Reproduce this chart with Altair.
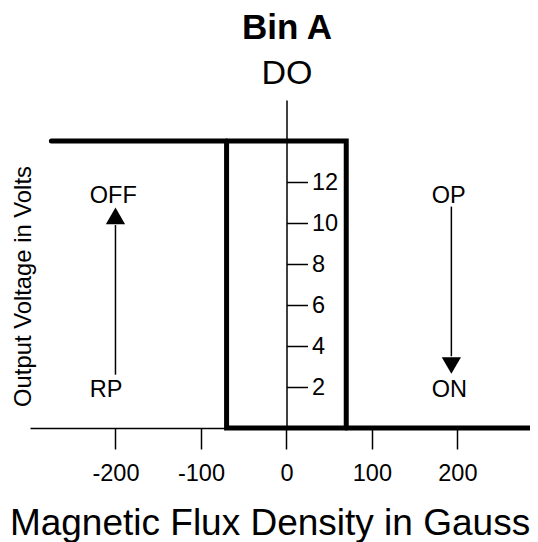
import altair as alt
import pandas as pd

# ---- data ----
x_ticks = [-200, -100, 0, 100, 200]
y_ticks = [2, 4, 6, 8, 10, 12]
x_domain = [-300, 285]
y_domain = [0, 16]

v_high = 14          # output high (OFF) voltage
v_low = 0            # output low (ON) voltage
b_op = 70            # operate point (G)
b_rp = -70           # release point (G)
line_start = -275
line_end = 300

label_text = ["OFF", "RP", "OP", "ON"]
label_x = [-230, -230, 170, 170]
label_y = [11, 1.5, 11, 1.5]

arrow_x = [-200, 193]
arrow_from = [2.6, 10.8]
arrow_to = [9.9, 3.5]
head_y = [10.35, 3.05]
head_shape = ["triangle-up", "triangle-down"]

FONT = "Liberation Sans"
W, H = 500, 328

loop_df = pd.DataFrame({
    "seg": ["a", "a", "a", "b", "b", "b"],
    "ord": [0, 1, 2, 0, 1, 2],
    "x": [line_start, b_op, b_op, b_rp, b_rp, line_end],
    "y": [v_high, v_high, v_low, v_high, v_low, v_low],
})
lab_df = pd.DataFrame({"t": label_text, "x": label_x, "y": label_y})
arr_df = pd.DataFrame({"x": arrow_x, "y": arrow_from, "y2": arrow_to,
                       "hy": head_y, "shape": head_shape})

xscale = alt.Scale(domain=x_domain, nice=False, zero=False)
yscale = alt.Scale(domain=y_domain, nice=False, zero=False)

x_axis = alt.Axis(
    values=x_ticks, labelExpr="'' + datum.value", grid=False,
    labelFont=FONT, labelFontSize=23.5, labelColor="black", labelPadding=12,
    labelFlush=False, tickSize=21, tickWidth=1.5, tickColor="black",
    domainColor="black", domainWidth=1.5,
    title="Magnetic Flux Density in Gauss", titleFont=FONT, titleFontSize=37,
    titleFontWeight="normal", titleColor="black", titleX=239.5, titleY=106.5,
    titleAlign="center", titleBaseline="alphabetic",
)
y_axis = alt.Axis(
    orient="right", offset=-243.5, values=y_ticks, grid=False,
    labelFont=FONT, labelFontSize=23.5, labelColor="black", labelPadding=4,
    tickSize=21, tickWidth=1.5, tickColor="black",
    domainColor="black", domainWidth=1.5,
    title="Output Voltage in Volts", titleFont=FONT, titleFontSize=23.8,
    titleFontWeight="normal", titleColor="black", titleAngle=270,
    titleX=-256.5, titleY=186, titleAlign="center", titleBaseline="alphabetic",
)

X = alt.X("x:Q", scale=xscale, axis=x_axis)

loop = alt.Chart(loop_df).mark_line(
    color="black", strokeWidth=5, strokeCap="round", strokeJoin="miter"
).encode(
    x=X,
    y=alt.Y("y:Q", scale=yscale, axis=y_axis),
    detail="seg:N",
    order="ord:Q",
)

shafts = alt.Chart(arr_df).mark_rule(color="black", strokeWidth=1.5).encode(
    x=X,
    y=alt.Y("y:Q", scale=yscale, axis=y_axis),
    y2="y2:Q",
)

heads = alt.Chart(arr_df).mark_point(
    filled=True, color="black", opacity=1, size=370, strokeWidth=0
).encode(
    x=X,
    y=alt.Y("hy:Q", scale=yscale, axis=y_axis),
    shape=alt.Shape("shape:N", scale=None, legend=None),
)

labels = alt.Chart(lab_df).mark_text(
    font=FONT, fontSize=23.5, color="black", align="left", baseline="alphabetic"
).encode(
    x=X,
    y=alt.Y("y:Q", scale=yscale, axis=y_axis),
    text="t:N",
)

chart = alt.layer(loop, shafts, heads, labels).properties(
    width=W, height=H,
    autosize=alt.AutoSizeParams(type="none"),
    padding={"left": 22, "top": 92, "right": 0, "bottom": 115},
    title=alt.TitleParams(
        text="Bin A", subtitle="DO", font=FONT, fontSize=35, fontWeight="bold",
        color="black", subtitleFont=FONT, subtitleFontSize=34,
        subtitleFontWeight="normal", subtitleColor="black",
        anchor="middle", dx=7, offset=9, subtitlePadding=11,
    ),
).configure_view(strokeWidth=0)

chart.save("out.html", embed_options={"renderer": "svg", "actions": False})
